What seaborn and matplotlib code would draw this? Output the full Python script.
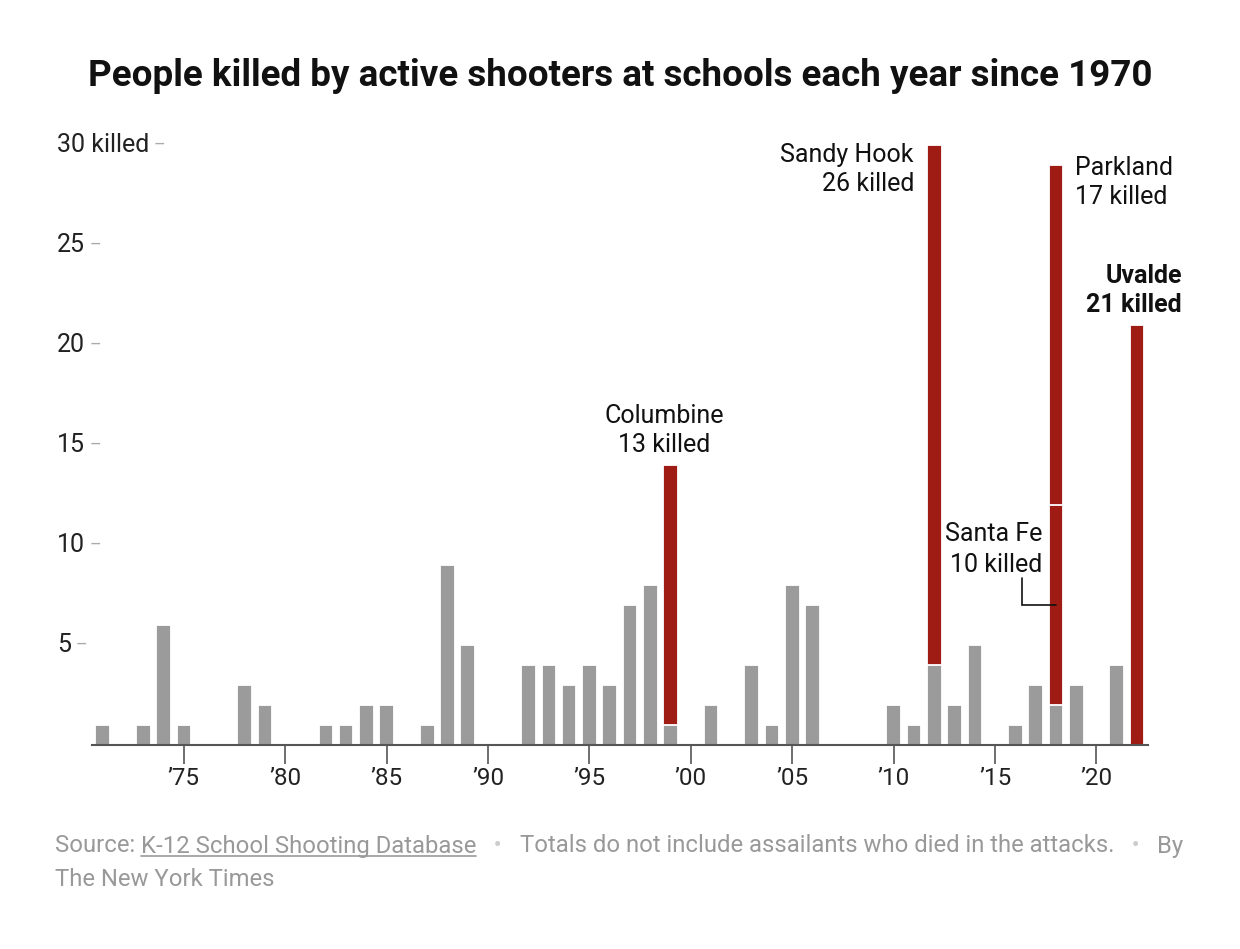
import matplotlib
matplotlib.use("Agg")
import matplotlib.pyplot as plt
import matplotlib.transforms as mtransforms
from matplotlib.lines import Line2D
import seaborn as sns
import pandas as pd

# ---------------- data ----------------
years = list(range(1971, 2023))
base_killed = [1, 0, 1, 6, 1, 0, 0, 3, 2, 0,
               0, 1, 1, 2, 2, 0, 1, 9, 5, 0,
               0, 4, 4, 3, 4, 3, 7, 8, 1, 0,
               2, 0, 4, 1, 8, 7, 0, 0, 0, 2,
               1, 4, 2, 5, 0, 1, 3, 2, 3, 0,
               4, 0]
event_years = [1999, 2012, 2018, 2018, 2022]
event_names = ["Columbine", "Sandy Hook", "Santa Fe", "Parkland", "Uvalde"]
event_killed = [13, 26, 10, 17, 21]
y_ticks = [5, 10, 15, 20, 25, 30]
y_tick_labels = ["5", "10", "15", "20", "25", "30 killed"]
x_tick_years = [1975, 1980, 1985, 1990, 1995, 2000, 2005, 2010, 2015, 2020]
x_tick_labels = ["\u201975", "\u201980", "\u201985", "\u201990", "\u201995",
                 "\u201900", "\u201905", "\u201910", "\u201915", "\u201920"]
title = "People killed by active shooters at schools each year since 1970"

GRAY = "#9b9b9b"
RED = "#9e1c14"
TXT = "#222222"

sns.set_theme(style="ticks")
plt.rcParams["font.family"] = ["Roboto", "DejaVu Sans"]

W, H = 1240, 949
fig = plt.figure(figsize=(W / 100, H / 100), dpi=100)
YMAX = 30.2
px_per_unit = 20.0
ax_left, ax_right, ax_bottom = 92, 1148, 745
ax_top = ax_bottom - YMAX * px_per_unit
ax = fig.add_axes([ax_left / W, 1 - ax_bottom / H, (ax_right - ax_left) / W, (ax_bottom - ax_top) / H])

# stacking levels
events_by_year = {}
for yr, k in zip(event_years, event_killed):
    events_by_year.setdefault(yr, []).append(k)
max_levels = max(len(v) for v in events_by_year.values())

for lvl in range(max_levels, 0, -1):
    rows_y, rows_k = [], []
    for i, yr in enumerate(years):
        ev = events_by_year.get(yr, [])
        if ev:
            rows_y.append(yr)
            rows_k.append(base_killed[i] + sum(ev[:lvl]))
    df = pd.DataFrame({"year": rows_y, "killed": rows_k})
    sns.barplot(data=df, x="year", y="killed", order=years, color=RED, saturation=1,
                width=0.72, edgecolor="white", linewidth=1.3, errorbar=None, ax=ax)

df_base = pd.DataFrame({"year": years, "killed": base_killed})
sns.barplot(data=df_base, x="year", y="killed", order=years, color=GRAY, saturation=1,
            width=0.72, edgecolor="white", linewidth=1.3, errorbar=None, ax=ax)

ax.set_xlim(-0.53, len(years) - 1 + 0.54)
ax.set_ylim(0, YMAX)
ax.set_xlabel("")
ax.set_ylabel("")
for s in ["left", "top", "right"]:
    ax.spines[s].set_visible(False)
ax.spines["bottom"].set_color("#555555")
ax.spines["bottom"].set_linewidth(1.5)
ax.spines["bottom"].set_zorder(5)

ax.set_xticks([years.index(y) for y in x_tick_years])
ax.set_xticklabels(x_tick_labels)
ax.tick_params(axis="x", bottom=True, length=13.5, width=1.2, color="#555555",
               labelsize=17.5, labelcolor=TXT, pad=2)
ax.set_yticks([])

# y labels with dashes
blend = mtransforms.blended_transform_factory(ax.transAxes, ax.transData)
lab_x = (57 - ax_left) / (ax_right - ax_left)
for v, lab in zip(y_ticks, y_tick_labels):
    t = ax.text(lab_x, v, lab, transform=blend, ha="left", va="center",
                fontsize=18, color=TXT, clip_on=False)
    ax.annotate("\u2013", xy=(1, 0.5), xycoords=t, xytext=(3, 0),
                textcoords="offset points", ha="left", va="center",
                fontsize=13, color="#aaaaaa")

# annotations
def idx(yr):
    return years.index(yr)

def total(yr):
    return base_killed[idx(yr)] + sum(events_by_year.get(yr, []))

P = 0.72  # px -> pt
ann_kw = dict(textcoords="offset points", fontsize=18, color="#111111", linespacing=1.25)

e = 0  # Columbine
ax.annotate(f"{event_names[e]}\n{event_killed[e]} killed", xy=(idx(event_years[e]), total(event_years[e])),
            xytext=(-6 * P, 8 * P), ha="center", va="bottom", **ann_kw)
e = 1  # Sandy Hook
ax.annotate(f"{event_names[e]}\n{event_killed[e]} killed", xy=(idx(event_years[e]) - 0.36, total(event_years[e])),
            xytext=(-13 * P, 2 * P), ha="right", va="top", **ann_kw)
e = 3  # Parkland
ax.annotate(f"{event_names[e]}\n{event_killed[e]} killed", xy=(idx(event_years[e]) + 0.36, total(event_years[e])),
            xytext=(12 * P, 9 * P), ha="left", va="top", **ann_kw)
e = 4  # Uvalde
ax.annotate(f"{event_names[e]}\n{event_killed[e]} killed", xy=(idx(event_years[e]), total(event_years[e])),
            xytext=(45 * P, 8 * P), ha="right", va="bottom", fontweight="bold", **ann_kw)
e = 2  # Santa Fe with leader line
sf_i = idx(event_years[e])
sf_y = 7
ax.annotate(f"{event_names[e]}\n{event_killed[e]} killed", xy=(sf_i, sf_y),
            xytext=(-14 * P, 28 * P), ha="right", va="bottom",
            **{**ann_kw, "linespacing": 1.35})
ax.plot([sf_i - 1.65, sf_i - 1.65, sf_i], [sf_y + 1.35, sf_y, sf_y],
        color="#111111", lw=1.2, zorder=6, solid_joinstyle="miter")

# title
fig.text(0.5, 1 - 76 / H, title, ha="center", va="center", fontsize=26.5,
         fontweight="bold", color="#111111")

# footer
FG = "#999999"
fs = 17.2
t1 = fig.text(55 / W, 1 - 846 / H, "Source: ", ha="left", va="center", fontsize=fs, color=FG)
t2 = fig.text(0, 0, "K-12 School Shooting Database", fontsize=fs, color=FG)
fig.canvas.draw()
r = fig.canvas.get_renderer()
b1 = t1.get_window_extent(r)
t2.set_position((b1.x1 / W, b1.y0 / H))
t2.set_va("bottom")
t2.set_ha("left")
t3 = fig.text(0, 0, "   \u2022   ", fontsize=fs, color="#cccccc", ha="left", va="bottom")
t4 = fig.text(0, 0, "Totals do not include assailants who died in the attacks.", fontsize=fs,
              color=FG, ha="left", va="bottom")
t5 = fig.text(0, 0, "   \u2022   ", fontsize=fs, color="#cccccc", ha="left", va="bottom")
t6 = fig.text(0, 0, "By", fontsize=fs, color=FG, ha="left", va="bottom")
prev = t2
for t in [t3, t4, t5, t6]:
    fig.canvas.draw()
    bp = prev.get_window_extent(r)
    t.set_position((bp.x1 / W, b1.y0 / H))
    prev = t
fig.text(55 / W, 1 - 880 / H, "The New York Times", ha="left", va="center", fontsize=fs, color=FG)
fig.canvas.draw()
b2 = t2.get_window_extent(r)
fig.add_artist(Line2D([b2.x0 / W, b2.x1 / W], [(b2.y0 + 2) / H, (b2.y0 + 2) / H],
                      color=FG, lw=1.2, transform=fig.transFigure))

fig.savefig("out.png", dpi=100)
